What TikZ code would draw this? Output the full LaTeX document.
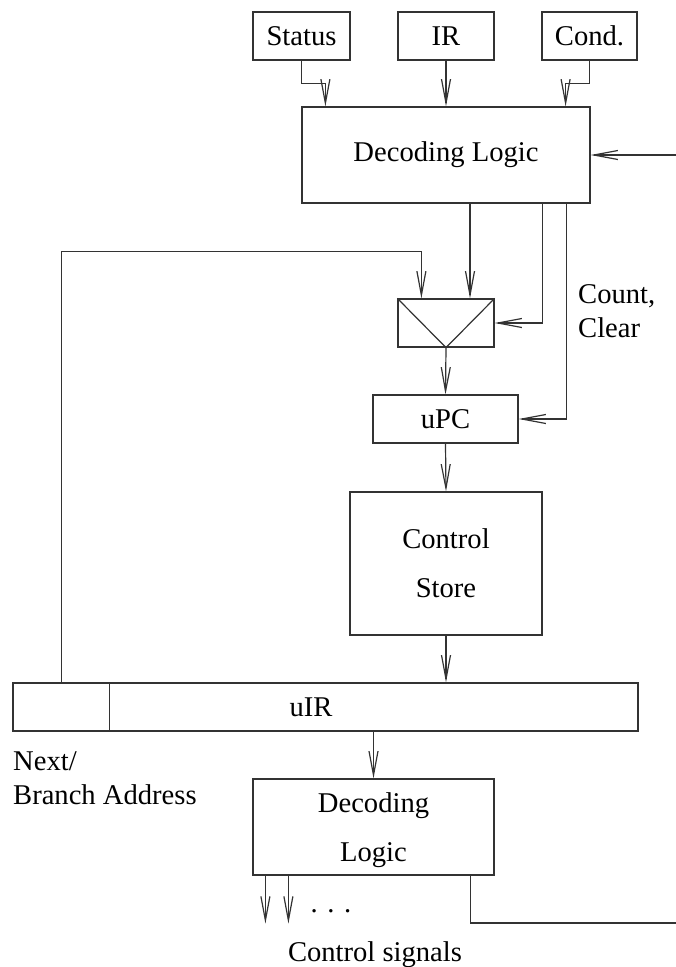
\documentclass[tikz,border=0pt]{standalone}
\usepackage{fontspec}
\setmainfont{Liberation Serif}
\usetikzlibrary{arrows.meta,calc}

\begin{document}
\begin{tikzpicture}[x=1pt,y=-1pt,
  box/.style={draw,color=black!80,text=black,line width=1.2pt,inner sep=0pt,align=center,font=\fontsize{28.6}{49}\selectfont},
  lbl/.style={inner sep=0pt,align=left,font=\fontsize{28.6}{34}\selectfont},
  arr/.style={draw,color=black!80,line width=1.2pt,-{Straight Barb[length=24pt,width=9pt]}}]
\useasboundingbox (0,0) rectangle (676,967);

\node[box, minimum width=97pt, minimum height=48pt] (status) at (301.5,36) {Status};
\node[box, minimum width=96pt, minimum height=48pt] (ir) at (446,36) {IR};
\node[box, minimum width=95pt, minimum height=48pt] (cond) at (589.5,36) {Cond.};
\node[box, minimum width=288pt, minimum height=96pt] (declogic) at (446,155) {Decoding Logic};
\node[box, minimum width=96pt, minimum height=48pt] (mux) at (446,323) {};
\node[box, minimum width=145pt, minimum height=48pt] (upc) at (445.5,419) {uPC};
\node[box, minimum width=192pt, minimum height=143pt, text depth=0pt] (store) at (446,563.5) {Control\\Store};
\node[box, minimum width=625pt, minimum height=48pt] (uir) at (325.5,707) {};
\node[lbl] (uirtext) at (311,707) {uIR};
\node[box, minimum width=241pt, minimum height=96pt, text depth=0pt] (dec2) at (373.5,827) {Decoding\\Logic};

\node[lbl, anchor=west] (count) at (578,311) {Count,\\Clear};
\node[lbl, anchor=west] (nextaddr) at (13,778) {Next/\\Branch Address};
\node[lbl] (dots) at (331,911) {.\,\,.\,\,.};
\node[lbl] (signals) at (375,955) {Control signals};

\coordinate (extin) at (676,155);
\coordinate (extout) at (676,923);

% multiplexer sign and field divider
\draw[color=black!80,line width=1.2pt] (mux.north west) -- (mux.south) -- (mux.north east);
\draw[color=black!80,line width=1.2pt] ($(uir.north west)+(97,0)$) -- ($(uir.south west)+(97,0)$);

\path[arr] (status.south) -- ++(0,23) -| ($(declogic.north west)+(24,0)$);
\path[arr] (ir.south) -- (declogic.north);
\path[arr] (cond.south) -- ++(0,23) -| ($(declogic.north east)+(-25,0)$);
\path[arr] (extin) -- (declogic.east);

\path[arr] ($(declogic.south)+(24,0)$) -- ($(mux.north)+(24,0)$);
\path[arr] ($(declogic.south east)+(-48,0)$) |- (mux.east);
\path[arr] ($(declogic.south east)+(-24,0)$) |- (upc.east);
\path[arr] ($(uir.north west)+(49,0)$) -- ++(0,-431) -| ($(mux.north west)+(24,0)$);

\path[arr] (mux.south) -- (upc.north);
\path[arr] (upc.south) -- (store.north);
\path[arr] (store.south) -- (store.south |- uir.north);
\path[arr] (dec2.north |- uir.south) -- (dec2.north);

\path[arr] ($(dec2.south west)+(13,0)$) -- ++(0,48);
\path[arr] ($(dec2.south west)+(36,0)$) -- ++(0,48);
\path[draw,color=black!80,line width=1.2pt] ($(dec2.south east)+(-24,0)$) |- (extout);
\end{tikzpicture}
\end{document}
